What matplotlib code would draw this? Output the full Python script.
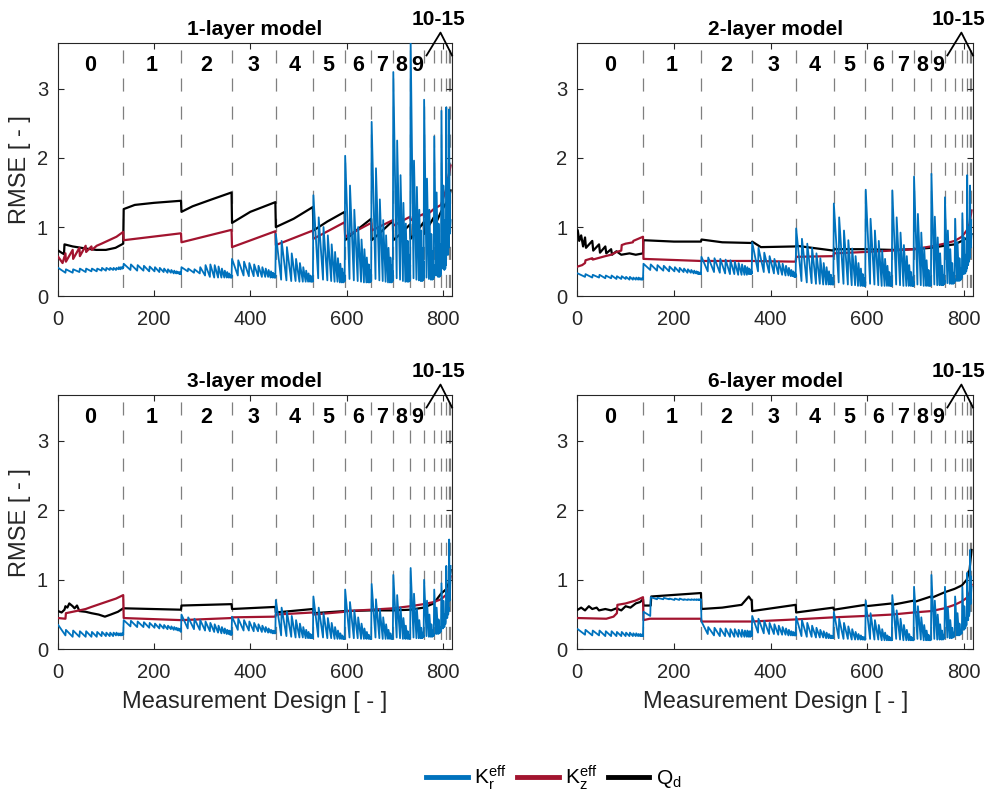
import matplotlib
matplotlib.use("Agg")
import matplotlib.pyplot as plt
from matplotlib.lines import Line2D

plt.rcParams["font.family"] = ["Liberation Sans", "DejaVu Sans"]
plt.rcParams["mathtext.fontset"] = "custom"
plt.rcParams["mathtext.rm"] = "Liberation Sans"
plt.rcParams["lines.scale_dashes"] = False

# number of designs per block (block k holds sub-blocks of 16-k, 15-k, ..., 1)
BLOCK_SIZES = [136, 120, 105, 91, 78, 66, 55, 45, 36, 28, 21, 15, 10, 6, 3, 1]
BLOCK_LABELS = ["0", "1", "2", "3", "4", "5", "6", "7", "8", "9"]
TITLES = ["1-layer model", "2-layer model", "3-layer model", "6-layer model"]

# K_r^eff: first and last value of each sub-block, block by block
KR_PEAKS_1 = [
    [0.41, 0.39, 0.39, 0.40, 0.40, 0.40, 0.40, 0.41, 0.41, 0.41, 0.41, 0.41, 0.42, 0.42, 0.42, 0.42],
    [0.47, 0.46, 0.45, 0.44, 0.43, 0.42, 0.41, 0.40, 0.39, 0.38, 0.37, 0.36, 0.35, 0.35, 0.34],
    [0.42, 0.40, 0.39, 0.42, 0.45, 0.46, 0.45, 0.43, 0.40, 0.37, 0.35, 0.33, 0.31, 0.30],
    [0.54, 0.52, 0.50, 0.48, 0.46, 0.44, 0.42, 0.40, 0.38, 0.36, 0.34, 0.32, 0.30],
    [0.90, 0.80, 0.71, 0.62, 0.54, 0.48, 0.42, 0.37, 0.33, 0.30, 0.27, 0.25],
    [1.46, 1.14, 1.00, 0.88, 0.75, 0.64, 0.55, 0.47, 0.40, 0.34, 0.30],
    [2.03, 1.60, 1.25, 1.00, 0.82, 0.68, 0.56, 0.46, 0.38, 0.32],
    [2.52, 1.85, 1.40, 1.10, 0.88, 0.70, 0.56, 0.45, 0.36],
    [3.24, 2.25, 1.75, 1.35, 1.05, 0.80, 0.60, 0.45],
    [3.70, 1.96, 1.58, 1.25, 0.95, 0.70, 0.50],
    [2.84, 1.70, 1.25, 0.90, 0.65, 0.45],
    [2.31, 1.50, 1.05, 0.75, 0.50],
    [2.68, 1.60, 1.10, 0.70],
    [2.73, 1.70, 1.10],
    [2.70, 1.50],
    [1.10],
]
KR_TROUGHS_1 = [
    [0.34, 0.34, 0.35, 0.35, 0.36, 0.36, 0.37, 0.37, 0.38, 0.38, 0.38, 0.39, 0.39, 0.40, 0.40, 0.41],
    [0.38, 0.37, 0.37, 0.36, 0.36, 0.35, 0.35, 0.34, 0.34, 0.33, 0.33, 0.33, 0.32, 0.32, 0.32],
    [0.36, 0.34, 0.33, 0.30, 0.28, 0.27, 0.27, 0.27, 0.27, 0.27, 0.27, 0.27, 0.27, 0.27],
    [0.30, 0.30, 0.29, 0.29, 0.29, 0.28, 0.28, 0.28, 0.27, 0.27, 0.27, 0.27, 0.27],
    [0.24, 0.23, 0.22, 0.22, 0.21, 0.21, 0.21, 0.21, 0.21, 0.21, 0.21, 0.22],
    [0.26, 0.24, 0.23, 0.22, 0.21, 0.21, 0.20, 0.20, 0.20, 0.21, 0.22],
    [0.25, 0.23, 0.22, 0.21, 0.20, 0.20, 0.20, 0.20, 0.21, 0.22],
    [0.25, 0.23, 0.22, 0.21, 0.20, 0.20, 0.20, 0.21, 0.23],
    [0.26, 0.24, 0.22, 0.21, 0.21, 0.21, 0.22, 0.24],
    [0.26, 0.24, 0.23, 0.22, 0.22, 0.23, 0.25],
    [0.27, 0.25, 0.24, 0.24, 0.25, 0.27],
    [0.30, 0.28, 0.28, 0.30, 0.33],
    [0.40, 0.38, 0.40, 0.45],
    [0.60, 0.60, 0.70],
    [0.90, 1.00],
    [1.10],
]

KR_PEAKS_2 = [
    [0.33, 0.32, 0.31, 0.31, 0.30, 0.30, 0.29, 0.29, 0.28, 0.28, 0.27, 0.27, 0.27, 0.26, 0.26, 0.26],
    [0.47, 0.46, 0.45, 0.44, 0.43, 0.42, 0.41, 0.40, 0.39, 0.38, 0.37, 0.36, 0.35, 0.34, 0.33],
    [0.57, 0.56, 0.55, 0.54, 0.53, 0.52, 0.50, 0.48, 0.46, 0.44, 0.42, 0.40, 0.38, 0.36],
    [0.78, 0.70, 0.63, 0.58, 0.54, 0.50, 0.47, 0.44, 0.41, 0.38, 0.36, 0.34, 0.32],
    [0.98, 0.83, 0.76, 0.70, 0.62, 0.55, 0.48, 0.42, 0.36, 0.31, 0.26, 0.22],
    [1.34, 1.14, 0.95, 0.81, 0.69, 0.58, 0.48, 0.40, 0.32, 0.26, 0.21],
    [1.54, 1.12, 0.95, 0.80, 0.66, 0.54, 0.44, 0.35, 0.28, 0.22],
    [1.53, 1.14, 0.92, 0.74, 0.58, 0.45, 0.35, 0.27, 0.21],
    [1.73, 1.19, 0.92, 0.70, 0.52, 0.38, 0.28, 0.21],
    [1.77, 1.15, 0.85, 0.62, 0.44, 0.31, 0.23],
    [1.43, 0.95, 0.68, 0.48, 0.34, 0.25],
    [1.12, 0.78, 0.55, 0.40, 0.30],
    [1.20, 0.85, 0.60, 0.45],
    [1.75, 1.00, 0.70],
    [1.60, 1.10],
    [0.90],
]
KR_TROUGHS_2 = [
    [0.28, 0.27, 0.27, 0.26, 0.26, 0.25, 0.25, 0.25, 0.24, 0.24, 0.24, 0.24, 0.24, 0.24, 0.24, 0.25],
    [0.38, 0.37, 0.37, 0.36, 0.36, 0.35, 0.35, 0.34, 0.34, 0.33, 0.33, 0.32, 0.32, 0.32, 0.32],
    [0.36, 0.35, 0.34, 0.33, 0.32, 0.32, 0.31, 0.31, 0.31, 0.31, 0.32, 0.32, 0.32, 0.33],
    [0.36, 0.35, 0.34, 0.33, 0.32, 0.31, 0.30, 0.30, 0.29, 0.29, 0.28, 0.28, 0.28],
    [0.22, 0.20, 0.19, 0.18, 0.18, 0.17, 0.17, 0.17, 0.17, 0.17, 0.17, 0.17],
    [0.20, 0.18, 0.17, 0.16, 0.16, 0.15, 0.15, 0.15, 0.15, 0.15, 0.15],
    [0.18, 0.17, 0.16, 0.15, 0.15, 0.15, 0.15, 0.15, 0.15, 0.15],
    [0.17, 0.16, 0.15, 0.15, 0.15, 0.15, 0.15, 0.15, 0.15],
    [0.17, 0.16, 0.15, 0.15, 0.15, 0.15, 0.15, 0.16],
    [0.17, 0.16, 0.16, 0.16, 0.16, 0.17, 0.18],
    [0.19, 0.18, 0.18, 0.18, 0.19, 0.21],
    [0.22, 0.22, 0.23, 0.25, 0.28],
    [0.32, 0.33, 0.36, 0.40],
    [0.45, 0.50, 0.55],
    [0.70, 0.80],
    [0.90],
]

KR_PEAKS_3 = [
    [0.35, 0.28, 0.27, 0.26, 0.26, 0.25, 0.25, 0.25, 0.24, 0.24, 0.24, 0.24, 0.23, 0.23, 0.23, 0.22],
    [0.42, 0.41, 0.40, 0.39, 0.38, 0.37, 0.36, 0.35, 0.34, 0.33, 0.32, 0.31, 0.30, 0.29, 0.28],
    [0.50, 0.46, 0.44, 0.42, 0.40, 0.38, 0.36, 0.34, 0.32, 0.30, 0.28, 0.27, 0.26, 0.25],
    [0.47, 0.44, 0.42, 0.40, 0.38, 0.36, 0.34, 0.32, 0.30, 0.28, 0.27, 0.26, 0.25],
    [0.71, 0.60, 0.54, 0.48, 0.42, 0.37, 0.32, 0.28, 0.25, 0.22, 0.20, 0.18],
    [0.76, 0.60, 0.52, 0.45, 0.38, 0.32, 0.27, 0.23, 0.20, 0.18, 0.16],
    [0.86, 0.68, 0.56, 0.46, 0.37, 0.30, 0.25, 0.21, 0.18, 0.16],
    [0.94, 0.72, 0.58, 0.46, 0.36, 0.28, 0.23, 0.19, 0.17],
    [1.07, 0.78, 0.60, 0.45, 0.34, 0.26, 0.21, 0.18],
    [1.17, 0.80, 0.58, 0.42, 0.31, 0.24, 0.20],
    [1.00, 0.70, 0.50, 0.36, 0.27, 0.22],
    [0.86, 0.60, 0.43, 0.32, 0.26],
    [0.95, 0.70, 0.50, 0.40],
    [1.20, 0.80, 0.60],
    [1.58, 1.10],
    [1.20],
]
KR_TROUGHS_3 = [
    [0.20, 0.18, 0.18, 0.18, 0.18, 0.18, 0.19, 0.19, 0.19, 0.19, 0.20, 0.20, 0.20, 0.20, 0.21, 0.21],
    [0.33, 0.32, 0.32, 0.31, 0.31, 0.30, 0.30, 0.29, 0.29, 0.28, 0.28, 0.27, 0.27, 0.26, 0.25],
    [0.30, 0.29, 0.28, 0.27, 0.26, 0.25, 0.24, 0.23, 0.23, 0.22, 0.22, 0.21, 0.21, 0.21],
    [0.28, 0.27, 0.27, 0.26, 0.26, 0.25, 0.25, 0.24, 0.24, 0.23, 0.23, 0.23, 0.23],
    [0.20, 0.19, 0.18, 0.17, 0.17, 0.17, 0.16, 0.16, 0.16, 0.16, 0.16, 0.16],
    [0.18, 0.17, 0.16, 0.16, 0.15, 0.15, 0.15, 0.15, 0.15, 0.15, 0.15],
    [0.17, 0.16, 0.16, 0.15, 0.15, 0.15, 0.15, 0.15, 0.15, 0.15],
    [0.17, 0.16, 0.15, 0.15, 0.15, 0.15, 0.15, 0.15, 0.15],
    [0.17, 0.16, 0.15, 0.15, 0.15, 0.15, 0.15, 0.16],
    [0.17, 0.16, 0.16, 0.16, 0.16, 0.17, 0.18],
    [0.19, 0.18, 0.18, 0.18, 0.19, 0.20],
    [0.22, 0.22, 0.23, 0.25, 0.28],
    [0.30, 0.32, 0.36, 0.42],
    [0.45, 0.50, 0.55],
    [0.70, 0.85],
    [1.20],
]

KR_PEAKS_6 = [
    [0.29, 0.28, 0.27, 0.27, 0.26, 0.26, 0.25, 0.25, 0.24, 0.24, 0.23, 0.23, 0.22, 0.22, 0.21, 0.21],
    [0.54, 0.75, 0.74, 0.74, 0.73, 0.73, 0.73, 0.72, 0.72, 0.72, 0.72, 0.72, 0.72, 0.72, 0.72],
    [0.40, 0.32, 0.31, 0.30, 0.30, 0.29, 0.29, 0.28, 0.28, 0.27, 0.27, 0.26, 0.26, 0.25],
    [0.48, 0.44, 0.41, 0.38, 0.36, 0.34, 0.32, 0.30, 0.28, 0.26, 0.25, 0.24, 0.23],
    [0.47, 0.42, 0.38, 0.34, 0.31, 0.28, 0.26, 0.24, 0.22, 0.20, 0.19, 0.18],
    [0.54, 0.44, 0.38, 0.33, 0.29, 0.25, 0.22, 0.20, 0.18, 0.17, 0.16],
    [0.70, 0.52, 0.42, 0.35, 0.29, 0.24, 0.20, 0.18, 0.16, 0.15],
    [0.78, 0.56, 0.44, 0.35, 0.28, 0.22, 0.18, 0.16, 0.15],
    [0.90, 0.62, 0.46, 0.35, 0.27, 0.21, 0.17, 0.15],
    [1.07, 0.70, 0.50, 0.36, 0.27, 0.21, 0.17],
    [0.90, 0.60, 0.42, 0.31, 0.24, 0.19],
    [0.76, 0.52, 0.37, 0.28, 0.23],
    [0.90, 0.62, 0.45, 0.36],
    [1.10, 0.75, 0.55],
    [1.43, 1.05],
    [0.90],
]
KR_TROUGHS_6 = [
    [0.21, 0.20, 0.20, 0.19, 0.19, 0.19, 0.19, 0.19, 0.19, 0.19, 0.19, 0.19, 0.19, 0.19, 0.19, 0.19],
    [0.48, 0.72, 0.72, 0.72, 0.71, 0.71, 0.71, 0.71, 0.71, 0.71, 0.71, 0.71, 0.71, 0.71, 0.71],
    [0.22, 0.20, 0.19, 0.19, 0.18, 0.18, 0.18, 0.18, 0.18, 0.18, 0.18, 0.18, 0.19, 0.19],
    [0.24, 0.23, 0.22, 0.22, 0.21, 0.21, 0.21, 0.20, 0.20, 0.20, 0.20, 0.20, 0.20],
    [0.19, 0.18, 0.18, 0.17, 0.17, 0.17, 0.16, 0.16, 0.16, 0.16, 0.16, 0.16],
    [0.16, 0.15, 0.15, 0.14, 0.14, 0.14, 0.14, 0.14, 0.14, 0.14, 0.14],
    [0.15, 0.14, 0.14, 0.13, 0.13, 0.13, 0.13, 0.13, 0.13, 0.13],
    [0.15, 0.14, 0.13, 0.13, 0.13, 0.13, 0.13, 0.13, 0.13],
    [0.15, 0.14, 0.13, 0.13, 0.13, 0.13, 0.13, 0.14],
    [0.15, 0.14, 0.14, 0.14, 0.14, 0.15, 0.16],
    [0.17, 0.16, 0.16, 0.17, 0.18, 0.19],
    [0.20, 0.20, 0.21, 0.23, 0.26],
    [0.28, 0.30, 0.34, 0.40],
    [0.42, 0.48, 0.55],
    [0.65, 0.80],
    [0.90],
]

# K_z^eff and Q_d as (design, RMSE) vertices
KZ_1 = [(1, 0.57), (10, 0.48), (16, 0.62), (17, 0.50), (31, 0.67), (32, 0.54), (45, 0.70),
        (46, 0.58), (58, 0.73), (59, 0.64), (70, 0.72), (71, 0.67), (81, 0.73), (91, 0.76),
        (122, 0.86), (136, 0.93), (137, 0.81), (256, 0.91), (257, 0.78), (361, 0.96),
        (362, 0.71), (452, 0.94), (453, 0.74), (530, 0.95), (531, 0.83), (596, 1.07),
        (597, 0.86), (651, 1.06), (652, 0.95), (696, 1.10), (697, 1.02), (732, 1.15),
        (733, 1.10), (760, 1.19), (761, 1.14), (781, 1.26), (796, 1.32), (806, 1.53),
        (812, 1.75), (816, 1.89)]
QD_1 = [(1, 0.66), (10, 0.62), (13, 0.61), (14, 0.75), (31, 0.72), (58, 0.69), (80, 0.67),
        (100, 0.67), (120, 0.70), (136, 0.76), (137, 1.26), (160, 1.32), (200, 1.35),
        (256, 1.38), (257, 1.22), (280, 1.30), (320, 1.40), (361, 1.50), (362, 1.06),
        (400, 1.22), (452, 1.36), (453, 1.00), (490, 1.12), (530, 1.29), (531, 0.95),
        (560, 1.08), (596, 1.22), (597, 0.81), (620, 0.95), (651, 1.12), (652, 0.81),
        (670, 0.92), (696, 1.09), (697, 0.81), (715, 0.92), (732, 1.04), (733, 0.83),
        (745, 0.93), (760, 1.07), (761, 0.90), (781, 1.14), (782, 1.00), (796, 1.22),
        (806, 1.34), (812, 1.40), (816, 1.53)]

KZ_2 = [(1, 0.43), (10, 0.45), (16, 0.48), (17, 0.52), (31, 0.55), (32, 0.53), (58, 0.58),
        (70, 0.60), (81, 0.64), (91, 0.66), (92, 0.74), (100, 0.76), (108, 0.77), (115, 0.78),
        (116, 0.80), (136, 0.86), (137, 0.54), (256, 0.51), (361, 0.51), (452, 0.50),
        (453, 0.57), (530, 0.58), (531, 0.62), (596, 0.64), (651, 0.66), (696, 0.68),
        (732, 0.72), (760, 0.76), (781, 0.80), (796, 0.86), (806, 0.95), (812, 1.05),
        (816, 1.24)]
QD_2 = [(1, 0.95), (4, 0.80), (8, 0.88), (12, 0.72), (16, 0.85), (18, 0.70), (31, 0.80),
        (33, 0.66), (45, 0.75), (47, 0.63), (58, 0.72), (60, 0.62), (70, 0.68), (72, 0.60),
        (81, 0.65), (91, 0.60), (108, 0.62), (121, 0.60), (136, 0.62), (137, 0.81),
        (200, 0.79), (256, 0.79), (257, 0.82), (300, 0.78), (361, 0.77), (362, 0.79),
        (380, 0.71), (452, 0.72), (453, 0.73), (530, 0.66), (531, 0.68), (596, 0.68),
        (651, 0.67), (696, 0.68), (732, 0.70), (760, 0.73), (781, 0.75), (796, 0.80),
        (806, 0.84), (816, 0.90)]

KZ_3 = [(1, 0.45), (16, 0.44), (17, 0.52), (31, 0.54), (45, 0.56), (58, 0.58), (70, 0.61),
        (91, 0.66), (108, 0.70), (121, 0.73), (136, 0.78), (137, 0.45), (256, 0.42),
        (257, 0.42), (361, 0.45), (362, 0.46), (452, 0.47), (453, 0.50), (530, 0.53),
        (531, 0.50), (596, 0.54), (597, 0.55), (651, 0.57), (696, 0.59), (732, 0.62),
        (760, 0.65), (781, 0.68), (796, 0.72), (806, 0.78), (812, 0.88), (816, 1.05)]
QD_3 = [(1, 0.55), (8, 0.53), (14, 0.57), (16, 0.62), (20, 0.60), (24, 0.66), (31, 0.62),
        (35, 0.59), (40, 0.63), (45, 0.55), (58, 0.54), (70, 0.52), (85, 0.50), (98, 0.47),
        (110, 0.50), (125, 0.54), (136, 0.59), (137, 0.59), (256, 0.57), (257, 0.63),
        (361, 0.65), (362, 0.58), (452, 0.61), (453, 0.53), (530, 0.58), (531, 0.52),
        (596, 0.55), (597, 0.55), (651, 0.56), (696, 0.56), (732, 0.57), (760, 0.60),
        (781, 0.66), (796, 0.80), (806, 0.86), (812, 0.95), (816, 1.14)]

KZ_6 = [(1, 0.45), (60, 0.44), (75, 0.47), (82, 0.52), (83, 0.64), (100, 0.66), (120, 0.70),
        (136, 0.75), (137, 0.42), (150, 0.44), (256, 0.44), (257, 0.40), (361, 0.40),
        (452, 0.43), (530, 0.46), (596, 0.48), (651, 0.50), (696, 0.53), (732, 0.55),
        (760, 0.59), (781, 0.64), (796, 0.69), (806, 0.74), (812, 0.82), (816, 0.93)]
QD_6 = [(1, 0.57), (8, 0.60), (16, 0.56), (24, 0.62), (31, 0.58), (40, 0.60), (45, 0.56),
        (58, 0.58), (70, 0.56), (81, 0.59), (91, 0.56), (100, 0.62), (110, 0.60), (121, 0.66),
        (130, 0.68), (136, 0.72), (137, 0.63), (152, 0.63), (153, 0.76), (256, 0.81),
        (257, 0.58), (300, 0.60), (340, 0.64), (355, 0.76), (361, 0.70), (362, 0.55),
        (452, 0.64), (453, 0.53), (530, 0.60), (531, 0.57), (596, 0.64), (597, 0.62),
        (651, 0.66), (652, 0.64), (696, 0.70), (697, 0.68), (732, 0.76), (733, 0.74),
        (760, 0.82), (781, 0.87), (796, 0.92), (806, 1.00), (812, 1.15), (816, 1.43)]

KR_COLOR = "#0072BD"
KZ_COLOR = "#A2142F"
QD_COLOR = "black"
AX_COLOR = "#262626"


def sawtooth(peaks, troughs):
    """Polyline for K_r: each sub-block starts at its peak and ends at its trough."""
    xs, ys = [], []
    start = 0
    for k, (pk, tr) in enumerate(zip(peaks, troughs)):
        n = len(pk)
        pos = start
        for j in range(n):
            size = n - j
            xs += [pos + 1, pos + size]
            ys += [pk[j], tr[j]]
            pos += size
        start += BLOCK_SIZES[k]
    return xs, ys


edges = [0]
for s in BLOCK_SIZES:
    edges.append(edges[-1] + s)

fig = plt.figure(figsize=(9.87, 7.93), dpi=100)
rects = [
    [0.0585, 0.6264, 0.3995, 0.3194],
    [0.5849, 0.6264, 0.4009, 0.3194],
    [0.0585, 0.1812, 0.3995, 0.3207],
    [0.5849, 0.1812, 0.4009, 0.3207],
]
panels = [
    (KR_PEAKS_1, KR_TROUGHS_1, KZ_1, QD_1),
    (KR_PEAKS_2, KR_TROUGHS_2, KZ_2, QD_2),
    (KR_PEAKS_3, KR_TROUGHS_3, KZ_3, QD_3),
    (KR_PEAKS_6, KR_TROUGHS_6, KZ_6, QD_6),
]
YTOP = 3.66
XMAX = 819

for i, (rect, title, (pk, tr, kz, qd)) in enumerate(zip(rects, TITLES, panels)):
    ax = fig.add_axes(rect)
    ax.set_xlim(0, XMAX)
    ax.set_ylim(0, YTOP)

    # block boundaries
    for b in edges[1:-1]:
        ax.plot([b + 0.5, b + 0.5], [YTOP, 0], color="#7f7f7f", lw=0.9,
                ls=(15.2, (9.4, 10.8)), zorder=1)

    ax.plot([p[0] for p in qd], [p[1] for p in qd], color=QD_COLOR, lw=1.6, zorder=3)
    ax.plot([p[0] for p in kz], [p[1] for p in kz], color=KZ_COLOR, lw=1.6, zorder=4)
    kx, ky = sawtooth(pk, tr)
    ax.plot(kx, ky, color=KR_COLOR, lw=1.3, zorder=5)

    for k, lab in enumerate(BLOCK_LABELS):
        xc = (edges[k] + edges[k + 1]) / 2
        ax.text(xc, 3.33, lab, ha="center", va="center", fontsize=15.5,
                fontweight="bold", zorder=6)
    ax.text(790, 3.86, "10-15", ha="center", va="bottom", fontsize=15,
            fontweight="bold", clip_on=False)
    ax.plot([766, 795, 819], [3.48, 3.81, 3.48], color="black", lw=1.3,
            clip_on=False, zorder=6)

    ax.set_title(title, fontsize=15, fontweight="bold", pad=6)
    ax.set_xticks([0, 200, 400, 600, 800])
    ax.set_yticks([0, 1, 2, 3])
    ax.tick_params(direction="in", top=True, right=True, length=4, width=0.8,
                   colors=AX_COLOR, labelsize=14.5)
    ax.tick_params(axis="x", pad=10)
    ax.tick_params(axis="y", pad=7)
    for sp in ax.spines.values():
        sp.set_color(AX_COLOR)
        sp.set_linewidth(0.8)
    if i % 2 == 0:
        ax.set_ylabel("RMSE [ - ]", fontsize=17, color=AX_COLOR, labelpad=4)
    if i >= 2:
        ax.set_xlabel("Measurement Design [ - ]", fontsize=17, color=AX_COLOR, labelpad=6)

handles = [
    Line2D([], [], color=KR_COLOR, lw=3.5),
    Line2D([], [], color=KZ_COLOR, lw=3.5),
    Line2D([], [], color=QD_COLOR, lw=3.5),
]
labels = [r"$\mathrm{K_r^{eff}}$", r"$\mathrm{K_z^{eff}}$", r"$\mathrm{Q_d}$"]
fig.legend(handles, labels, loc="center", bbox_to_anchor=(0.561, 0.019), ncol=3,
           frameon=False, fontsize=15, handlelength=2.0, handletextpad=0.3,
           columnspacing=0.5)

fig.savefig("out.png", dpi=100)
